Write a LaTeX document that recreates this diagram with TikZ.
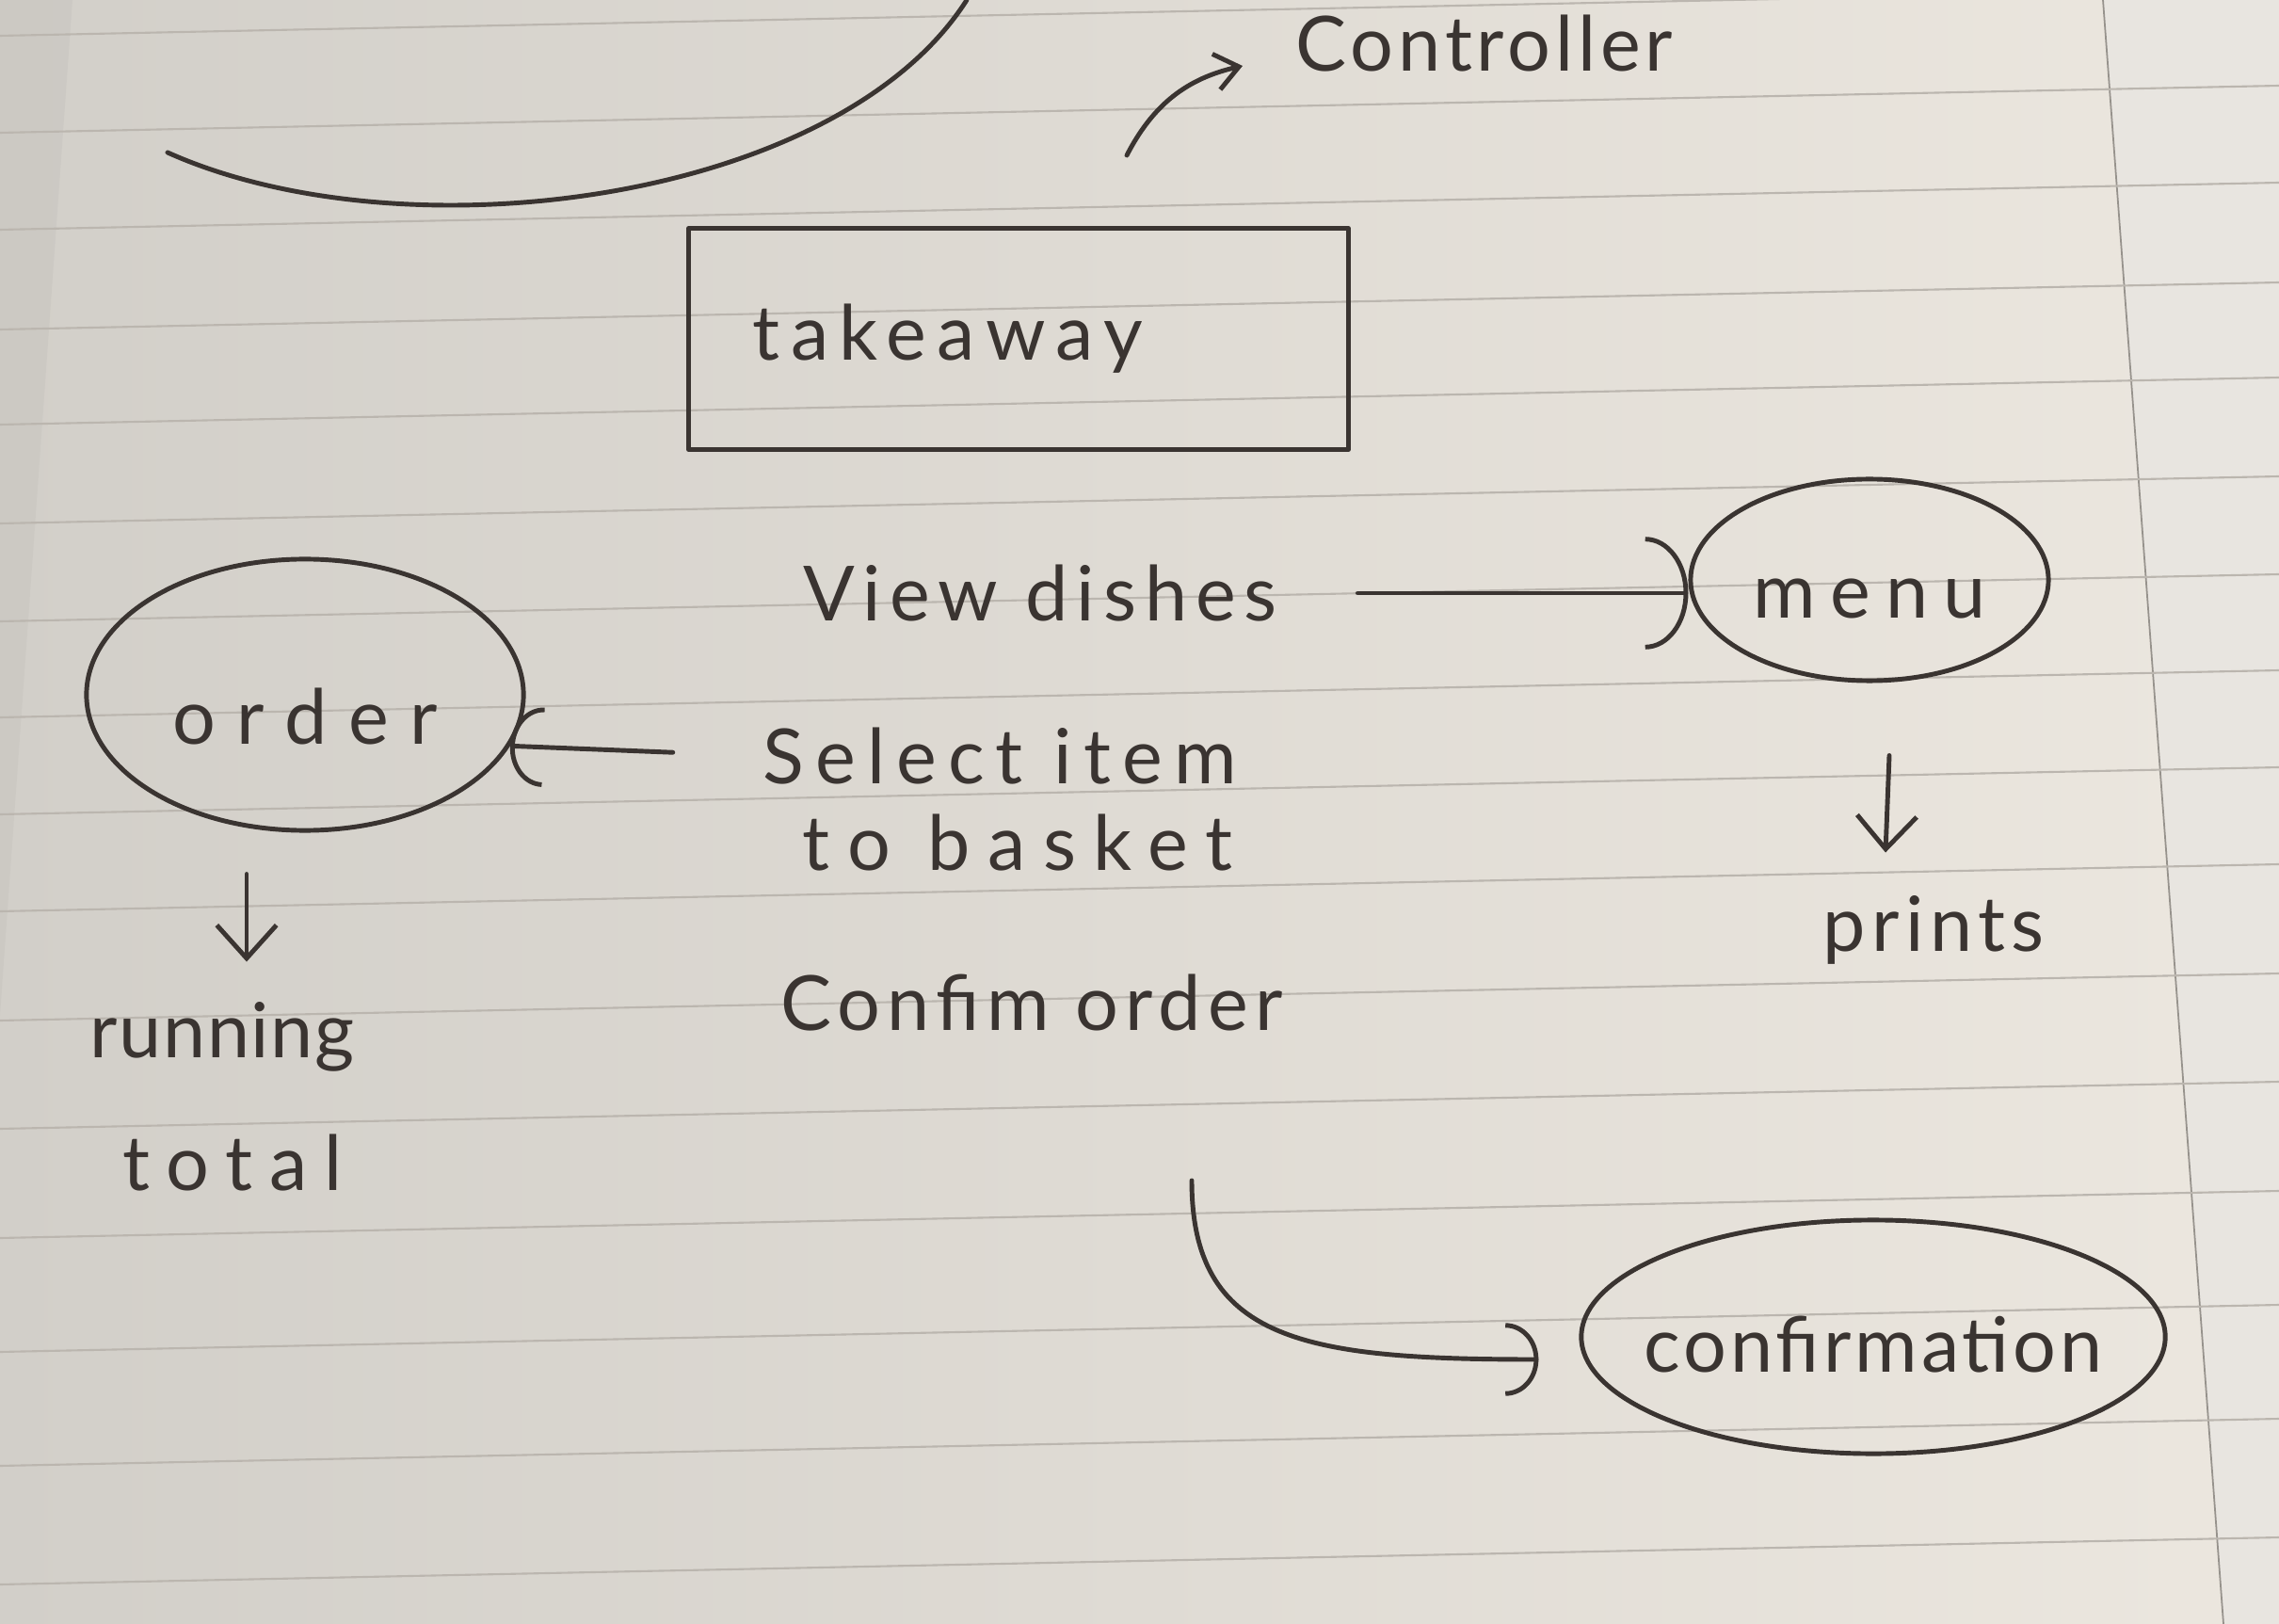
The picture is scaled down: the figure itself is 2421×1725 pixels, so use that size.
\documentclass[tikz,border=0pt]{standalone}
\usepackage{fontspec}
\setmainfont{Lato}
\usetikzlibrary{shapes.geometric,arrows.meta}
\definecolor{ink}{HTML}{3A3431}
\definecolor{paper}{HTML}{ECE7DF}
\definecolor{papergrey}{HTML}{D2CFC9}
\definecolor{pageedge}{HTML}{E8E5E0}
\definecolor{rulecol}{HTML}{BBB6AF}
\newcommand{\hand}[1]{\fontsize{23}{28}\selectfont\addfontfeatures{LetterSpace=#1}}
\begin{document}
\begin{tikzpicture}[x=0.01cm,y=-0.01cm,line join=round,
  pen/.style={draw=ink,line width=1.4pt,line cap=round},
  lbl/.style={text=ink,inner sep=0pt},
  box/.style={pen,rectangle,minimum width=70mm,minimum height=23.5mm,
    text width=56.4mm,inner xsep=6.8mm,align=left,text=ink},
  oval/.style={pen,ellipse,inner sep=0pt,text=ink,text depth=0pt},
  wide/.style={-{Arc Barb[length=13pt,width=34pt,line width=1.4pt]}},
  narrow/.style={-{Arc Barb[length=10pt,width=24pt,line width=1.4pt]}},
  down/.style={-{Straight Barb[length=10pt,width=18pt,line width=1.4pt]}},
  small/.style={-{Straight Barb[length=7pt,width=11pt,line width=1.4pt]}}]
\useasboundingbox (0,0) rectangle (2421,1725);
% paper
\shade[left color=papergrey,right color=paper] (0,0) rectangle (2421,1725);
\fill[papergrey!92!black,opacity=0.35] (0,0) -- (77,0) -- (0,1078) -- cycle;
\fill[pageedge] (2234,0) -- (2421,0) -- (2421,1725) -- (2362,1725) -- cycle;
\draw[rulecol!80!black,line width=0.5pt] (2234,0) -- (2362,1725);
\foreach \y in {38,141,244,350,451,556,660,762,865,968,1084,1199,1315,1436,1557,1683}
  \draw[rulecol,line width=0.6pt] (0,\y) -- (2421,{\y-50});
% free curve at top left
\draw[pen] (178,162) .. controls (430,275) and (890,215) .. (1027,0);
% nodes
\node[lbl,font=\hand{6}] (controller) at (1577,46) {Controller};
\node[box,font=\hand{14}] (takeaway) at (1082,360) {takeaway};
\node[lbl,font=\hand{11}] (view) at (1105,630) {View dishes};
\node[oval,font=\hand{20},text height=23pt,minimum width=38mm,minimum height=21.4mm] (menu) at (1986,616) {menu};
\node[oval,font=\hand{28},text height=30pt,minimum width=46.4mm,minimum height=28.8mm] (order) at (324,738) {order};
\node[lbl,font=\hand{15}] (select) at (1062,803) {Select item};
\node[lbl,font=\hand{23}] (basket) at (1081,895) {to basket};
\node[lbl,font=\hand{9}] (confirm) at (1096,1065) {Confim order};
\node[lbl,font=\hand{8}] (prints) at (2054,988) {prints};
\node[lbl,font=\hand{2}] (running) at (236,1101) {running};
\node[lbl,font=\hand{22}] (total) at (247,1235) {total};
\node[oval,font=\hand{5},text height=21.5pt,inner xsep=-2.8mm,minimum width=62mm,minimum height=24.8mm] (confirmation) at (1990,1420) {confirmation};
% connectors
\draw[pen,small] ([shift={(115,-75)}]takeaway.north) to[bend left=25] ([shift={(-257,24)}]controller.center);
\draw[pen,wide,shorten <=8.5mm] (view.east) -- (view.east -| menu.west);
\draw[pen,narrow,shorten <=9.5mm] (select.west) -- (order.-14);
\draw[pen,down] ([shift={(-62,44)}]order.south) -- ([shift={(-62,137)}]order.south);
\draw[pen,down] ([shift={(21,77)}]menu.south) -- ([shift={(17,180)}]menu.south);
\draw[pen,-{Arc Barb[length=10pt,width=22pt,line width=1.4pt]}] ([shift={(170,189)}]confirm.center) .. controls +(0,170) and +(-250,0) .. ([shift={(-43,24)}]confirmation.west);
\end{tikzpicture}
\end{document}
